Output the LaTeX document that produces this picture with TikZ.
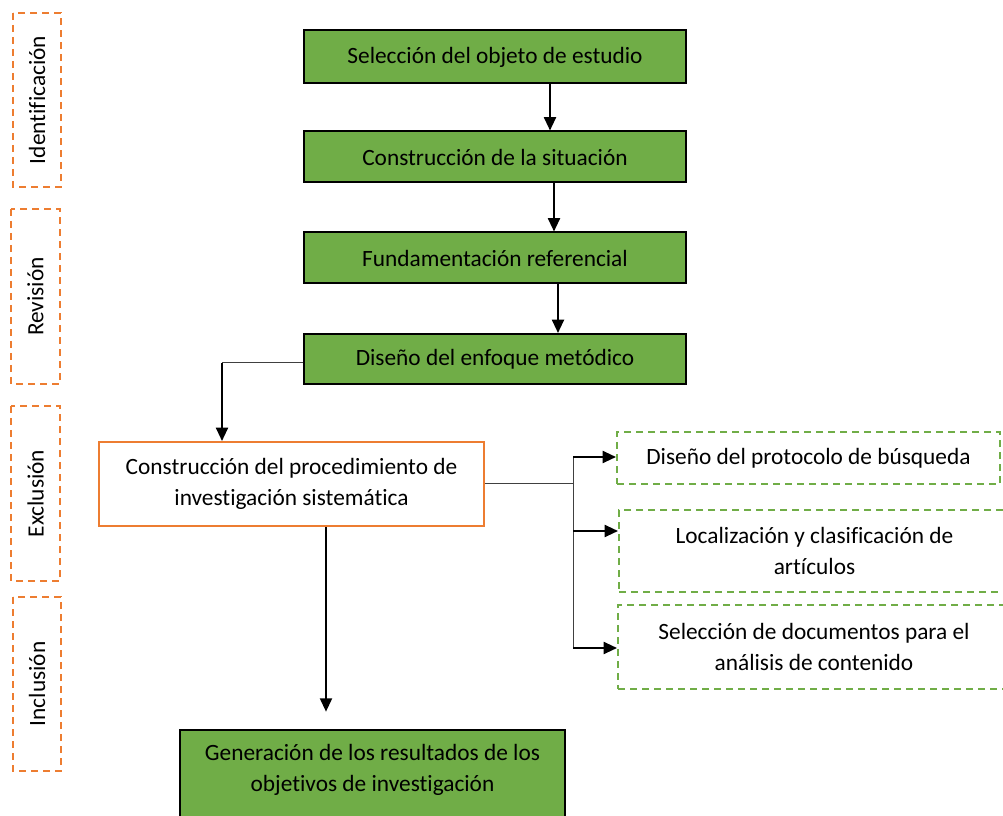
\documentclass[tikz,border=0pt]{standalone}
\usepackage{fontspec}
\setmainfont{Carlito}[Ligatures=NoCommon]
\usetikzlibrary{arrows.meta}
\definecolor{verde}{HTML}{70AD47}
\definecolor{naranja}{HTML}{ED7D31}
\newcommand{\px}{0.75pt}
\tikzset{
  texto/.style={font=\fontsize{17.5}{23.5}\selectfont, align=center, inner sep=0pt},
  etapa/.style={texto, draw=black, line width=1.5pt, fill=verde},
  proceso/.style={texto, draw=naranja, line width=1.5pt, fill=white},
  tarea/.style={texto, draw=verde, line width=1.5pt, dash pattern=on 7*\px off 5*\px},
  fase/.style={texto, draw=naranja, line width=1.5pt, dash pattern=on 7*\px off 5*\px, rotate=90},
  flecha/.style={line width=1.5pt, -{Triangle[length=10pt, width=9pt]}},
  linea/.style={line width=0.75pt, draw=black!75}
}
\begin{document}
\begin{tikzpicture}[x=0.75pt, y=-0.75pt]
\useasboundingbox (0,0) rectangle (1003,816);
\clip (0,0) rectangle (1003,816);
\node[fase, minimum width=174*\px, minimum height=48*\px] (ident) at (37,100) {Identificación};
\node[fase, minimum width=175*\px, minimum height=49*\px] (revi) at (35.5,296.5) {Revisión};
\node[fase, minimum width=175*\px, minimum height=49*\px] (excl) at (35.5,493.5) {Exclusión};
\node[fase, minimum width=174*\px, minimum height=48*\px] (incl) at (37,684) {Inclusión};
\node[etapa, minimum width=382*\px, minimum height=53*\px] (sel) at (495,57) {Selección del objeto de estudio};
\node[etapa, minimum width=382*\px, minimum height=51*\px] (cons) at (495,157) {Construcción de la situación};
\node[etapa, minimum width=382*\px, minimum height=51*\px] (fund) at (495,258) {Fundamentación referencial};
\node[etapa, minimum width=382*\px, minimum height=50*\px] (dis) at (495,359) {Diseño del enfoque metódico};
\node[proceso, minimum width=385*\px, minimum height=84*\px] (proc) at (291.5,484) {Construcción del procedimiento de\\investigación sistemática};
\node[etapa, minimum width=385*\px, minimum height=100*\px,
  label={[texto, yshift=7.5pt]center:Generación de los resultados de los\\objetivos de investigación}] (res) at (372.5,780) {};
\node[tarea, minimum width=383*\px, minimum height=52*\px] (prot) at (808.5,458) {Diseño del protocolo de búsqueda};
\node[tarea, minimum width=391*\px, minimum height=82*\px] (loc) at (814.5,551) {Localización y clasificación de\\artículos};
\node[tarea, minimum width=392*\px, minimum height=84*\px] (doc) at (814,647) {Selección de documentos para el\\análisis de contenido};
\draw[flecha] (sel.south -| 550,0) -- (cons.north -| 550,0);
\draw[flecha] (cons.south -| 554,0) -- (fund.north -| 554,0);
\draw[flecha] (fund.south -| 558,0) -- (dis.north -| 558,0);
\coordinate (codo) at (222,363);
\draw[linea] (dis.west |- codo) -- (codo);
\draw[flecha] (codo) -- (codo |- proc.north);
\draw[flecha, shorten >=13pt] (proc.south -| 326,0) -- (res.north -| 326,0);
\coordinate (b1) at (573,457);
\coordinate (b2) at (573,531);
\coordinate (b3) at (573,648);
\draw[linea] (proc.east |- 0,483) -- (573,483);
\draw[linea] (b1) -- (b3);
\draw[flecha] (b1) -- (b1 -| prot.west);
\draw[flecha] (b2) -- (b2 -| loc.west);
\draw[flecha] (b3) -- (b3 -| doc.west);
\end{tikzpicture}
\end{document}
